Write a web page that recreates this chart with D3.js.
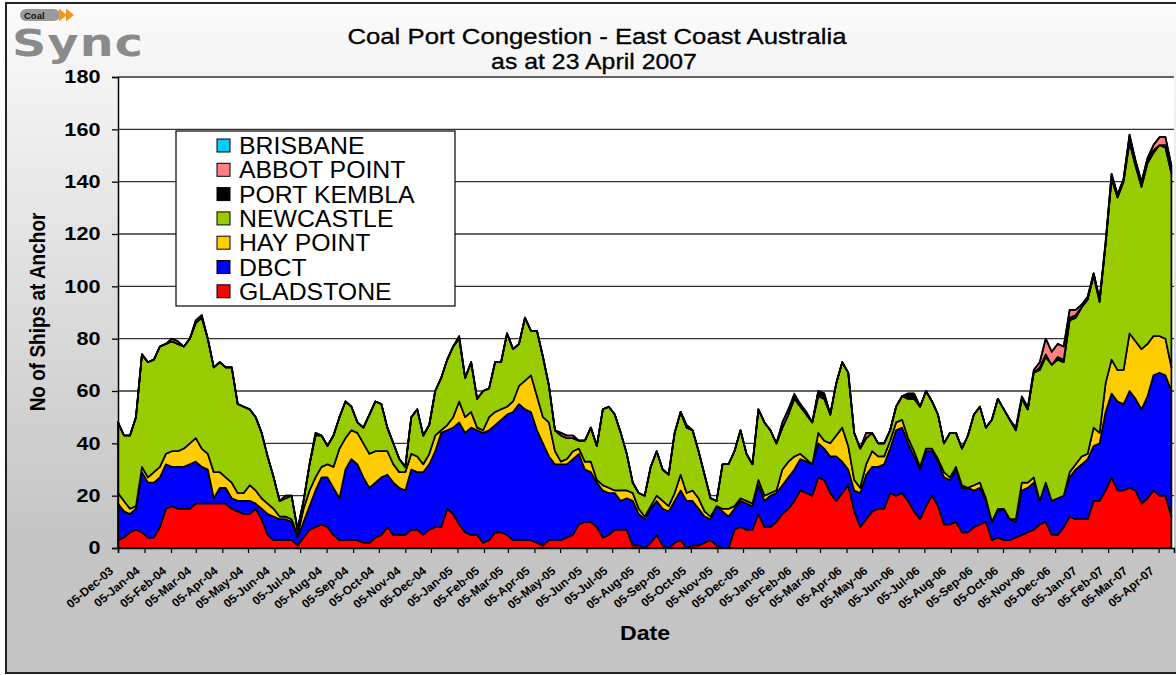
<!DOCTYPE html>
<html lang="en">
<head>
<meta charset="UTF-8">
<title>Coal Port Congestion - East Coast Australia</title>
<script src="https://d3js.org/d3.v7.min.js"></script>
<style>
  html, body { margin: 0; padding: 0; background: #fff; }
  svg { display: block; }
  text { font-family: "Liberation Sans", Arial, sans-serif; }
</style>
</head>
<body>
<div id="chart"></div>
<script>
// weekly readings, ships at anchor per port (Dec-03 .. Apr-07)
const gladstone = [
  3,4,6,7,6,4,4,8,15,16, 15,15,15,17,17,17,17,17,17,15, 14,13,13,15,11,5,3,3,3,3,
  1,4,7,8,9,8,5,3,3,3, 3,2,2,4,5,8,5,5,5,7, 7,5,7,8,8,15,13,9,6,5,
  5,2,3,6,6,5,3,3,3,3, 2,1,3,3,3,4,5,9,10,10, 8,4,5,7,7,7,1,1,0,2,
  5,1,0,2,3,0,1,1,2,3, 1,0,0,7,8,7,7,13,8,8, 10,13,15,18,22,21,20,27,26,21,
  18,21,24,14,8,11,14,15,15,21, 20,21,18,14,11,16,20,16,9,9, 10,6,6,8,9,10,3,4,3,3,
  4,5,6,7,9,10,5,5,8,12, 11,11,11,18,18,22,27,22,22,23, 22,17,19,22,20,20,12
];
const dbct = [
  14,10,7,8,23,21,21,19,17,15, 16,16,17,16,14,13,2,6,6,4, 4,5,5,2,4,8,9,8,8,7,
  3,6,9,14,18,19,18,16,27,31, 29,25,21,21,22,20,20,18,17,23, 22,24,25,29,36,30,33,39,38,41,
  40,42,42,41,43,46,49,52,50,49, 43,39,32,29,29,28,29,27,20,19, 17,18,16,14,11,12,17,12,11,13,
  13,14,14,16,19,18,17,14,10,8, 15,14,12,8,10,10,9,11,10,12, 11,11,12,12,12,12,12,13,12,14,
  17,12,6,8,13,17,17,16,17,17, 25,25,22,21,19,21,17,17,18,17, 20,17,17,14,14,8,7,10,12,8,
  6,17,17,18,9,15,13,14,12,15, 19,21,23,21,22,30,32,34,33,37, 35,36,39,44,47,46,48
];
const hayPoint = [
  4,4,2,1,2,2,4,4,4,6, 6,7,8,9,7,6,10,6,4,6, 3,3,6,5,4,4,3,1,1,1,
  1,5,6,5,4,5,8,19,12,11, 12,13,13,12,10,9,7,6,7,6, 6,3,4,6,1,2,4,8,6,6,
  1,1,5,5,4,3,4,7,11,14, 13,10,13,5,1,2,3,2,3,4, 1,2,2,1,4,3,3,2,1,1,
  2,3,2,3,6,3,4,4,2,1, 0,1,3,1,1,1,1,2,2,1, 1,6,6,5,2,1,0,4,3,5,
  8,13,9,4,2,4,6,4,3,3, 3,3,2,2,1,1,1,1,2,1, 1,1,0,2,2,1,0,1,0,0,
  1,3,2,2,0,0,0,0,0,2, 2,3,2,7,4,11,13,12,13,22, 22,23,20,15,14,14,9
];
const newcastle = [
  27,25,28,34,43,44,43,46,42,42, 41,39,40,44,50,44,40,42,42,44, 34,33,29,28,25,18,12,6,7,9,
  2,3,10,16,12,7,12,12,14,9, 4,6,15,19,18,9,8,5,2,14, 18,11,11,17,20,25,27,24,15,19,
  11,15,11,19,18,28,20,16,24,17, 25,23,14,8,10,8,5,3,8,13, 13,29,31,29,22,14,4,6,8,15,
  17,12,12,23,24,25,23,18,14,7, 2,17,17,21,26,18,15,27,28,24, 18,16,18,22,18,17,16,14,16,11,
  20,25,28,18,15,10,7,5,5,4, 6,9,15,20,23,22,18,17,11,17, 13,14,20,27,29,27,39,42,38,38,
  34,32,28,40,50,48,52,53,51,58, 56,57,59,58,50,53,69,66,72,73, 67,62,69,70,73,73,74
];
const portKembla = [
  0,0,0,0,0,0,0,0,0,0, 0,0,0,0,0,0,0,0,0,0, 0,0,0,0,0,0,0,0,0,0,
  0,0,0,0,0,0,0,0,0,0, 0,0,0,0,0,0,0,0,0,0, 0,0,0,0,0,0,0,0,0,0,
  0,0,0,0,0,0,0,0,0,0, 0,0,0,0,0,0,0,0,0,0, 0,0,0,0,0,0,0,0,0,0,
  0,0,0,0,0,0,0,0,0,0, 0,0,0,0,0,0,0,0,0,0, 0,0,0,1,1,0,0,2,2,0,
  0,0,0,0,0,0,0,0,0,0, 0,0,2,2,0,0,0,0,0,0, 0,0,0,0,0,0,0,0,0,0,
  0,0,0,0,1,1,0,1,1,1, 1,0,0,1,1,0,1,1,1,2, 2,1,1,1,0,1,1
];
const abbotPoint = [
  0,0,0,0,0,0,0,0,0,1, 1,0,0,1,1,0,0,0,0,0, 0,0,0,0,0,0,0,0,1,0,
  0,0,0,1,0,0,0,0,0,0, 0,0,0,0,0,0,0,0,0,0, 0,0,0,0,0,0,0,1,0,0,
  0,0,0,0,0,0,0,0,0,0, 0,0,0,0,1,1,1,0,0,0, 0,0,0,0,0,0,0,0,0,0,
  0,0,0,0,0,1,0,0,0,0, 0,0,0,0,0,0,0,0,0,0, 0,2,2,0,0,1,0,0,0,0,
  0,0,0,0,0,2,0,0,0,0, 0,0,0,0,0,0,0,0,0,0, 0,0,0,0,0,0,0,0,0,0,
  1,0,0,1,2,6,5,5,5,3, 2,1,1,0,0,1,1,0,0,1, 0,1,1,2,3,3,2
];
const brisbane = [
  0,0,0,0,0,0,0,0,0,0, 0,0,0,0,0,0,0,0,0,0, 0,0,0,0,0,0,0,0,0,0,
  0,0,0,0,0,0,0,0,0,0, 0,0,0,0,0,0,0,0,0,0, 0,0,0,0,0,0,0,0,0,0,
  0,0,0,0,0,0,0,0,0,0, 0,0,0,0,0,0,0,0,0,0, 0,0,0,0,0,0,0,0,0,0,
  0,0,0,0,0,0,0,0,0,0, 0,0,0,0,0,0,0,0,0,0, 0,0,0,1,0,0,0,0,0,0,
  0,0,0,0,0,0,0,0,0,0, 0,0,0,0,0,0,0,0,0,0, 0,0,0,0,0,0,0,0,0,0,
  0,1,1,0,0,0,0,0,0,0, 0,0,0,0,0,0,0,0,0,0, 0,0,0,0,0,0,0
];

// stacking order, bottom to top
const seriesNames = ["GLADSTONE", "DBCT", "HAY POINT", "NEWCASTLE", "PORT KEMBLA", "ABBOT POINT", "BRISBANE"];
const seriesValues = [gladstone, dbct, hayPoint, newcastle, portKembla, abbotPoint, brisbane];
const seriesColors = ["#ff0000", "#0000ff", "#ffcc00", "#99cc00", "#000000", "#ff8080", "#00ccff"];
const yTicks = [0, 20, 40, 60, 80, 100, 120, 140, 160, 180];

const firstDate = new Date(2003, 11, 5);
const asAtDate = new Date(2007, 3, 23);
const dates = gladstone.map((_, i) => d3.timeDay.offset(firstDate, 7 * i));
const tickDates = d3.timeMonth.range(new Date(2003, 11, 1), new Date(2007, 4, 1))
    .map(m => new Date(m.getFullYear(), m.getMonth(), 5));

const table = dates.map((date, i) => {
    const row = {date: date};
    seriesNames.forEach((name, k) => { row[name] = seriesValues[k][i]; });
    return row;
});

const width = 1176, height = 675;
const plot = {left: 118, right: 1174, top: 77, bottom: 548};

const svg = d3.select("#chart").append("svg")
    .attr("width", width)
    .attr("height", height);

// background
const grad = svg.append("defs").append("linearGradient")
    .attr("id", "bg").attr("x1", 0).attr("y1", 0).attr("x2", 0).attr("y2", 1);
grad.append("stop").attr("offset", "0%").attr("stop-color", "#fbfbfb");
grad.append("stop").attr("offset", "80%").attr("stop-color", "#c4c4c4");
grad.append("stop").attr("offset", "100%").attr("stop-color", "#c4c4c4");

svg.append("rect")
    .attr("x", 6).attr("y", 3)
    .attr("width", width + 10).attr("height", height - 5)
    .attr("fill", "url(#bg)")
    .attr("stroke", "#222").attr("stroke-width", 2);

// logo
const logo = svg.append("g");
logo.append("text")
    .attr("transform", "translate(12,56) scale(1.25,1)")
    .style("font-family", "'DejaVu Sans', sans-serif")
    .style("font-weight", "bold")
    .style("font-size", "38px")
    .attr("fill", "#8a8a8a")
    .attr("letter-spacing", 1)
    .text("Sync");
logo.append("rect")
    .attr("x", 20).attr("y", 9).attr("width", 40).attr("height", 12).attr("rx", 6)
    .attr("fill", "#9a9a9a");
logo.append("text")
    .attr("x", 24).attr("y", 18.5)
    .style("font-size", "9.5px").style("font-weight", "bold")
    .attr("fill", "#111")
    .text("Coal");
[59, 66].forEach(x0 => {
    logo.append("path")
        .attr("d", `M${x0},8.5L${x0 + 8},15L${x0},21.5Z`)
        .attr("fill", "#f7941d");
});

// title
svg.append("text")
    .attr("transform", "translate(597,44) scale(1.17,1)")
    .attr("text-anchor", "middle")
    .style("font-size", "22px")
    .attr("stroke", "#000").attr("stroke-width", 0.3)
    .text("Coal Port Congestion - East Coast Australia");
svg.append("text")
    .attr("transform", "translate(594,69) scale(1.13,1)")
    .attr("text-anchor", "middle")
    .style("font-size", "22px")
    .attr("stroke", "#000").attr("stroke-width", 0.3)
    .text("as at 23 April 2007");

// scales
const x = d3.scaleTime().domain([firstDate, asAtDate]).range([plot.left, plot.right]);
const y = d3.scaleLinear().domain([0, 180]).range([plot.bottom, plot.top]);

svg.append("rect")
    .attr("x", plot.left).attr("y", plot.top)
    .attr("width", plot.right - plot.left).attr("height", plot.bottom - plot.top)
    .attr("fill", "#fff");

// gridlines
svg.append("g")
    .selectAll("line")
    .data(yTicks.filter(d => d > 0))
    .join("line")
    .attr("x1", plot.left).attr("x2", plot.right)
    .attr("y1", d => y(d)).attr("y2", d => y(d))
    .attr("stroke", "#333").attr("stroke-width", 1.3);

// stacked areas
const stack = d3.stack().keys(seriesNames);
const layers = stack(table);
const area = d3.area()
    .x(d => x(d.data.date))
    .y0(d => y(d[0]))
    .y1(d => y(d[1]));

svg.append("g")
    .selectAll("path")
    .data(layers)
    .join("path")
    .attr("d", area)
    .attr("fill", (d, i) => seriesColors[i])
    .attr("stroke", "#000")
    .attr("stroke-width", 1.7)
    .attr("stroke-linejoin", "round");

// axes
const yAxis = svg.append("g")
    .attr("transform", `translate(${plot.left},0)`)
    .call(d3.axisLeft(y).tickValues(yTicks).tickSize(6).tickPadding(9));
yAxis.select(".domain").attr("stroke", "#000").attr("stroke-width", 1.5);
yAxis.selectAll(".tick line").attr("stroke", "#000").attr("stroke-width", 1.3);
yAxis.selectAll(".tick text")
    .attr("transform", "scale(1.17,1)")
    .attr("fill", "#000")
    .style("font-size", "18.5px").style("font-weight", "bold")
    .style("font-family", "'Liberation Sans', Arial, sans-serif");

const xAxis = svg.append("g")
    .attr("transform", `translate(0,${plot.bottom})`)
    .call(d3.axisBottom(x).tickValues(tickDates).tickFormat(d3.timeFormat("%d-%b-%y")).tickSize(5));
xAxis.select(".domain").attr("stroke", "#000").attr("stroke-width", 1.5);
xAxis.selectAll(".tick line").attr("stroke", "#000").attr("stroke-width", 1.2);
xAxis.selectAll(".tick text")
    .attr("x", 0).attr("y", 0).attr("dy", "0.35em")
    .attr("transform", "translate(-7,21) rotate(-40)")
    .attr("text-anchor", "end")
    .attr("fill", "#000")
    .style("font-size", "12px").style("font-weight", "bold")
    .style("font-family", "'Liberation Sans', Arial, sans-serif");

// axis titles
svg.append("text")
    .attr("transform", "translate(45,312) scale(1.15,1) rotate(-90)")
    .attr("text-anchor", "middle")
    .style("font-size", "19px").style("font-weight", "bold")
    .text("No of Ships at Anchor");
svg.append("text")
    .attr("transform", "translate(645,640) scale(1.1,1)")
    .attr("text-anchor", "middle")
    .style("font-size", "21px").style("font-weight", "bold")
    .text("Date");

// legend, top entry first
const legend = svg.append("g").attr("transform", "translate(176,131)");
legend.append("rect")
    .attr("width", 279).attr("height", 175)
    .attr("fill", "#fff").attr("stroke", "#000").attr("stroke-width", 1.2);
const legendOrder = d3.range(seriesNames.length).reverse();
const item = legend.selectAll("g.item")
    .data(legendOrder)
    .join("g")
    .attr("class", "item")
    .attr("transform", (k, j) => `translate(0,${15 + j * 24.3})`);
item.append("rect")
    .attr("x", 41).attr("y", -7).attr("width", 13).attr("height", 13)
    .attr("fill", k => seriesColors[k]).attr("stroke", "#000").attr("stroke-width", 1);
item.append("text")
    .attr("transform", "translate(63,8) scale(1.08,1)")
    .style("font-size", "23px")
    .text(k => seriesNames[k]);
</script>
</body>
</html>
